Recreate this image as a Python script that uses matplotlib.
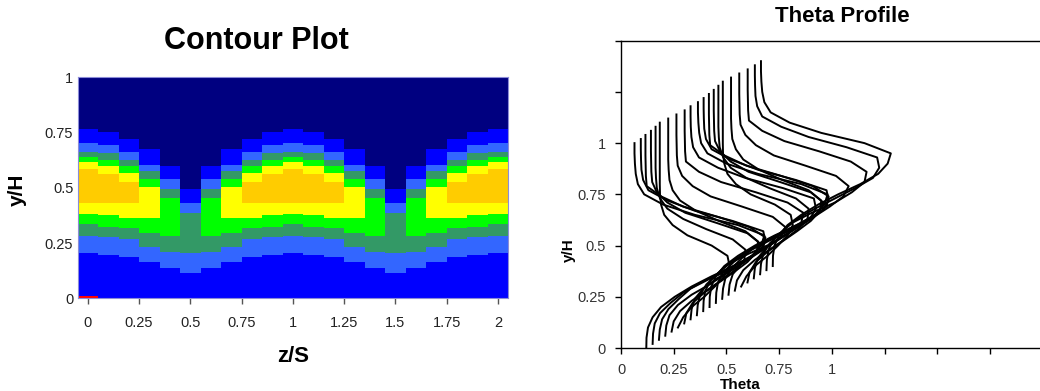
import matplotlib.pyplot as plt
import numpy as np

plt.rcParams['font.family'] = ['Liberation Sans', 'DejaVu Sans']

# ---------------- contour plot data ----------------
# one column per z/S station; for every colour band the y/H where it starts and ends
z_cols = [0.0, 0.1, 0.2, 0.3, 0.4, 0.5, 0.6, 0.7, 0.8, 0.9, 1.0,
          1.1, 1.2, 1.3, 1.4, 1.5, 1.6, 1.7, 1.8, 1.9, 2.0]

blue_hi = [0.766, 0.751, 0.721, 0.674, 0.599, 0.493, 0.599, 0.674, 0.721, 0.751, 0.766,
           0.751, 0.721, 0.674, 0.599, 0.493, 0.599, 0.674, 0.721, 0.751, 0.766]
royal_lo = [0.206, 0.196, 0.186, 0.166, 0.136, 0.113, 0.136, 0.166, 0.186, 0.196, 0.206,
            0.196, 0.186, 0.166, 0.136, 0.113, 0.136, 0.166, 0.186, 0.196, 0.206]
royal_hi = [0.701, 0.694, 0.663, 0.603, 0.538, 0.433, 0.538, 0.603, 0.663, 0.694, 0.701,
            0.694, 0.663, 0.603, 0.538, 0.433, 0.538, 0.603, 0.663, 0.694, 0.701]
sea_lo = [0.282, 0.276, 0.267, 0.233, 0.211, 0.204, 0.211, 0.233, 0.267, 0.276, 0.282,
          0.276, 0.267, 0.233, 0.211, 0.204, 0.211, 0.233, 0.267, 0.276, 0.282]
sea_hi = [0.663, 0.656, 0.626, 0.576, 0.493, 0.385, 0.493, 0.576, 0.626, 0.656, 0.663,
          0.656, 0.626, 0.576, 0.493, 0.385, 0.493, 0.576, 0.626, 0.656, 0.663]
green_lo = [0.336, 0.324, 0.317, 0.297, 0.283, 0, 0.283, 0.297, 0.317, 0.324, 0.336,
            0.324, 0.317, 0.297, 0.283, 0, 0.283, 0.297, 0.317, 0.324, 0.336]
green_hi = [0.638, 0.626, 0.600, 0.538, 0.455, 0, 0.455, 0.538, 0.600, 0.626, 0.638,
            0.626, 0.600, 0.538, 0.455, 0, 0.455, 0.538, 0.600, 0.626, 0.638]
yellow_lo = [0.381, 0.377, 0.362, 0.362, 0, 0, 0, 0.362, 0.362, 0.377, 0.381,
             0.377, 0.362, 0.362, 0, 0, 0, 0.362, 0.362, 0.377, 0.381]
yellow_hi = [0.618, 0.599, 0.566, 0.505, 0, 0, 0, 0.505, 0.566, 0.599, 0.618,
             0.599, 0.566, 0.505, 0, 0, 0, 0.505, 0.566, 0.599, 0.618]
orange_lo = [0.433, 0.433, 0.433, 0, 0, 0, 0, 0, 0.433, 0.433, 0.433,
             0.433, 0.433, 0, 0, 0, 0, 0, 0.433, 0.433, 0.433]
orange_hi = [0.585, 0.562, 0.525, 0, 0, 0, 0, 0, 0.525, 0.562, 0.585,
             0.562, 0.525, 0, 0, 0, 0, 0, 0.525, 0.562, 0.585]
red_hi = [0.01, 0, 0, 0, 0, 0, 0, 0, 0, 0, 0,
          0, 0, 0, 0, 0, 0, 0, 0, 0, 0]

# ---------------- theta profile data ----------------
y_h = [0.0, 0.05, 0.1, 0.15, 0.2, 0.25, 0.3, 0.35, 0.4, 0.45, 0.5,
       0.55, 0.6, 0.65, 0.7, 0.75, 0.8, 0.85, 0.9, 0.95, 1.0]

theta = [
    [0.120, 0.121, 0.128, 0.150, 0.190, 0.255, 0.335, 0.430, 0.535, 0.620, 0.665, 0.680, 0.555, 0.350, 0.200, 0.110, 0.080, 0.070, 0.066, 0.064, 0.064],
    [0.120, 0.122, 0.130, 0.155, 0.205, 0.265, 0.350, 0.445, 0.540, 0.625, 0.655, 0.645, 0.500, 0.320, 0.190, 0.100, 0.075, 0.067, 0.065, 0.064, 0.064],
    [0.120, 0.124, 0.135, 0.165, 0.215, 0.270, 0.365, 0.475, 0.555, 0.615, 0.625, 0.550, 0.400, 0.235, 0.130, 0.062, 0.058, 0.057, 0.056, 0.056, 0.056],
    [0.120, 0.125, 0.140, 0.180, 0.245, 0.330, 0.405, 0.480, 0.545, 0.570, 0.510, 0.365, 0.215, 0.130, 0.080, 0.058, 0.054, 0.053, 0.052, 0.052, 0.052],
    [0.120, 0.130, 0.160, 0.215, 0.285, 0.355, 0.420, 0.465, 0.470, 0.410, 0.285, 0.175, 0.100, 0.065, 0.050, 0.046, 0.044, 0.044, 0.044, 0.044, 0.044],
    [0.120, 0.145, 0.185, 0.245, 0.295, 0.340, 0.365, 0.355, 0.280, 0.165, 0.095, 0.055, 0.040, 0.035, 0.034, 0.034, 0.034, 0.034, 0.034, 0.034, 0.034],
    [0.120, 0.130, 0.160, 0.215, 0.285, 0.355, 0.420, 0.465, 0.470, 0.410, 0.285, 0.175, 0.100, 0.065, 0.050, 0.046, 0.044, 0.044, 0.044, 0.044, 0.044],
    [0.120, 0.125, 0.140, 0.180, 0.245, 0.330, 0.405, 0.480, 0.545, 0.570, 0.510, 0.365, 0.215, 0.130, 0.080, 0.059, 0.055, 0.054, 0.053, 0.053, 0.053],
    [0.120, 0.124, 0.135, 0.165, 0.215, 0.270, 0.365, 0.475, 0.555, 0.615, 0.625, 0.550, 0.400, 0.235, 0.130, 0.068, 0.064, 0.063, 0.062, 0.062, 0.062],
    [0.120, 0.122, 0.130, 0.155, 0.205, 0.265, 0.350, 0.445, 0.540, 0.625, 0.655, 0.645, 0.500, 0.320, 0.190, 0.100, 0.072, 0.064, 0.061, 0.060, 0.060],
    [0.120, 0.121, 0.128, 0.150, 0.190, 0.255, 0.335, 0.430, 0.535, 0.620, 0.665, 0.680, 0.555, 0.350, 0.200, 0.110, 0.080, 0.071, 0.067, 0.065, 0.065],
    [0.120, 0.122, 0.130, 0.155, 0.205, 0.265, 0.350, 0.445, 0.540, 0.625, 0.655, 0.645, 0.500, 0.320, 0.190, 0.100, 0.073, 0.065, 0.063, 0.062, 0.062],
    [0.120, 0.124, 0.135, 0.165, 0.215, 0.270, 0.365, 0.475, 0.555, 0.615, 0.625, 0.550, 0.400, 0.235, 0.130, 0.063, 0.059, 0.058, 0.057, 0.057, 0.057],
    [0.120, 0.125, 0.140, 0.180, 0.245, 0.330, 0.405, 0.480, 0.545, 0.570, 0.510, 0.365, 0.215, 0.130, 0.080, 0.056, 0.052, 0.051, 0.050, 0.050, 0.050],
    [0.120, 0.130, 0.160, 0.215, 0.285, 0.355, 0.420, 0.465, 0.470, 0.410, 0.285, 0.175, 0.100, 0.065, 0.048, 0.044, 0.042, 0.042, 0.042, 0.042, 0.042],
    [0.120, 0.145, 0.185, 0.245, 0.295, 0.340, 0.365, 0.355, 0.280, 0.165, 0.095, 0.055, 0.040, 0.034, 0.033, 0.033, 0.033, 0.033, 0.033, 0.033, 0.033],
    [0.120, 0.130, 0.160, 0.215, 0.285, 0.355, 0.420, 0.465, 0.470, 0.410, 0.285, 0.175, 0.100, 0.065, 0.048, 0.044, 0.042, 0.042, 0.042, 0.042, 0.042],
    [0.120, 0.125, 0.140, 0.180, 0.245, 0.330, 0.405, 0.480, 0.545, 0.570, 0.510, 0.365, 0.215, 0.130, 0.080, 0.057, 0.053, 0.052, 0.051, 0.051, 0.051],
    [0.120, 0.124, 0.135, 0.165, 0.215, 0.270, 0.365, 0.475, 0.555, 0.615, 0.625, 0.550, 0.400, 0.235, 0.130, 0.067, 0.063, 0.062, 0.061, 0.061, 0.061],
    [0.120, 0.122, 0.130, 0.155, 0.205, 0.265, 0.350, 0.445, 0.540, 0.625, 0.655, 0.645, 0.500, 0.320, 0.190, 0.100, 0.076, 0.068, 0.066, 0.065, 0.065],
    [0.120, 0.121, 0.128, 0.150, 0.190, 0.255, 0.335, 0.430, 0.535, 0.620, 0.665, 0.680, 0.555, 0.350, 0.200, 0.110, 0.080, 0.070, 0.066, 0.064, 0.064],
]

x_ticks = [0, 0.25, 0.5, 0.75, 1, 1.25, 1.5, 1.75, 2]
x_labels = ['0', '0.25', '0.5', '0.75', '1', '1.25', '1.5', '1.75', '2']
y_ticks = [0, 0.25, 0.5, 0.75, 1]
y_labels = ['0', '0.25', '0.5', '0.75', '1']

fig = plt.figure(figsize=(10.4, 3.91), dpi=100)

# ---------------- left: contour plot ----------------
ax1 = fig.add_axes([77.5 / 1040, 1 - 298.3 / 391, 430.8 / 1040, 221 / 391])
ax1.set_facecolor('#000080')
bands = [(np.zeros(len(z_cols)), blue_hi, '#0000FF'),
         (royal_lo, royal_hi, '#3366FF'),
         (sea_lo, sea_hi, '#339966'),
         (green_lo, green_hi, '#00FF00'),
         (yellow_lo, yellow_hi, '#FFFF00'),
         (orange_lo, orange_hi, '#FFCC00'),
         (np.zeros(len(z_cols)), red_hi, '#FF0000')]
for lo, hi, col in bands:
    ax1.bar(z_cols, np.subtract(hi, lo), bottom=lo, width=0.1, color=col,
            linewidth=0, antialiased=False)
ax1.set_xlim(-0.05, 2.05)
ax1.set_ylim(0, 1)
ax1.set_xticks(x_ticks)
ax1.set_xticklabels(x_labels)
ax1.set_yticks(y_ticks)
ax1.set_yticklabels(y_labels)
ax1.tick_params(axis='x', length=4, width=1, color='#555555', pad=9,
                labelsize=10.5, labelcolor='#222222')
ax1.tick_params(axis='y', length=0, pad=3, labelsize=10.5, labelcolor='#222222')
for sp in ax1.spines.values():
    sp.set_color('#8c8cd8')
    sp.set_linewidth(0.8)
ax1.set_ylabel('y/H', fontsize=15, fontweight='bold')
ax1.yaxis.set_label_coords(-0.118, 0.49)
ax1.set_xlabel('z/S', fontsize=16, fontweight='bold')
ax1.xaxis.set_label_coords(0.5, -0.216)
fig.text(256 / 1040, 1 - 41 / 391, 'Contour Plot', ha='center', va='center',
         fontsize=22, fontweight='bold')

# ---------------- right: stacked theta profiles ----------------
ax2 = fig.add_axes([621 / 1040, 1 - 348 / 391, 421.6 / 1040, 307.3 / 391])
dx, dy = 0.03, 0.02  # shift between successive profiles
for k, prof in enumerate(theta):
    ax2.plot(np.add(prof, k * dx), np.add(y_h, k * dy), color='black', lw=1.4)
ax2.set_xlim(0, 2)
ax2.set_ylim(0, 1.5)
ax2.set_xticks(x_ticks)
ax2.set_xticklabels(x_labels[:5] + [''] * 4)
ax2.set_yticks(y_ticks + [1.25, 1.5])
ax2.set_yticklabels(y_labels + ['', ''])
ax2.tick_params(length=4, width=1, pad=7, labelsize=10.5, labelcolor='#333333')
ax2.spines['right'].set_visible(False)
for sp in ['left', 'bottom', 'top']:
    ax2.spines[sp].set_linewidth(1.0)
ax2.set_xlabel('Theta', fontsize=11, fontweight='bold')
ax2.xaxis.set_label_coords(0.282, -0.099)
ax2.set_ylabel('y/H', fontsize=11, fontweight='bold')
ax2.yaxis.set_label_coords(-0.107, 0.319)
fig.text(842 / 1040, 1 - 17 / 391, 'Theta Profile', ha='center', va='center',
         fontsize=16, fontweight='bold')

fig.savefig('out.png', dpi=100)
